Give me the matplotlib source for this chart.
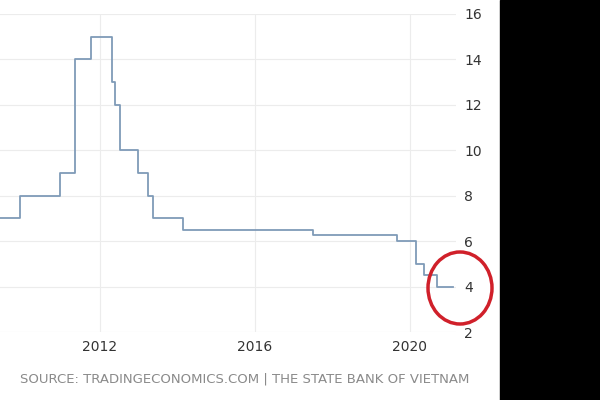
import matplotlib
matplotlib.use("Agg")
import matplotlib.pyplot as plt
from matplotlib.patches import Rectangle, Ellipse

# step series: (year fraction, rate)
years = [2009.0, 2009.94, 2010.76, 2010.97, 2011.1, 2011.35, 2011.74, 2011.78, 2012.18, 2012.3, 2012.4, 2012.52,
         2012.93, 2012.98, 2013.24, 2013.37, 2014.14, 2017.5, 2019.67, 2020.16, 2020.22, 2020.36, 2020.7, 2021.1]
rates = [7, 8, 8, 9, 9, 14, 14, 15, 15, 13, 12, 10,
         10, 9, 8, 7, 6.5, 6.25, 6, 5, 5, 4.5, 4, 4]
yticks = [2, 4, 6, 8, 10, 12, 14, 16]
xticks = [2012, 2016, 2020]
source = "SOURCE: TRADINGECONOMICS.COM | THE STATE BANK OF VIETNAM"

fig = plt.figure(figsize=(6, 4), dpi=100)
ax = fig.add_axes([0.0, 0.17, 0.76, 0.795])
ax.step(years, rates, where="post", color="#7f9bb8", lw=1.3)
ax.set_xlim(2009.42, 2009.42 + 456 / 38.75)
ax.set_ylim(2, 16)
ax.set_yticks(yticks)
ax.set_xticks(xticks)
ax.yaxis.tick_right()
ax.tick_params(length=0, labelsize=10, colors="#333333", pad=6)
for s in ax.spines.values():
    s.set_visible(False)
ax.grid(True, color="#ececec", lw=0.8)
fig.text(0.033, 0.043, source, fontsize=9.5, color="#8a8a8a")
fig.patches.append(Rectangle((500 / 600, 0), 100 / 600, 1, transform=fig.transFigure, color="black", zorder=5))
fig.patches.append(Ellipse((460 / 600, 1 - 288 / 400), 64 / 600, 72 / 400, transform=fig.transFigure,
                           fill=False, edgecolor="#d0202a", lw=2.5, zorder=6))
fig.savefig("out.png", dpi=100)
